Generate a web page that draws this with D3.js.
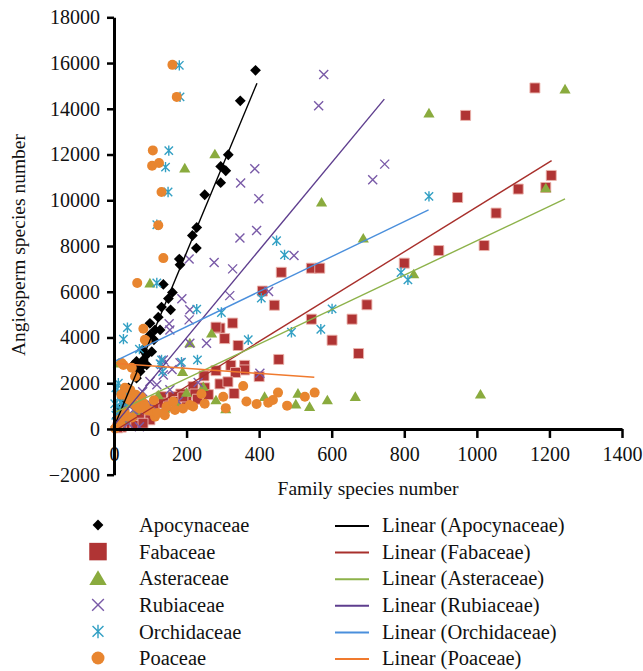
<!DOCTYPE html>
<html><head><meta charset="utf-8">
<script src="https://cdn.jsdelivr.net/npm/d3@7"></script>
<style>
html,body{margin:0;padding:0;background:#fff;}
svg{display:block;}
text{font-family:"Liberation Serif","DejaVu Serif",serif;fill:#111;}
</style></head>
<body>
<svg id="chart" width="643" height="671"></svg>
<script>
// ---------- data ----------
const seriesNames = ["Apocynaceae","Fabaceae","Asteraceae","Rubiaceae","Orchidaceae","Poaceae"];

const apocynaceae = [[390,15680],[348,14350],[315,11990],[294,11480],[308,11290],[294,10770],[250,10240],[228,8810],[216,8460],[227,7910],[180,7430],[182,7180],[136,6320],[161,5970],[150,5700],[156,5210],[131,5330],[122,4890],[99,4620],[113,4330],[127,4330],[99,4110],[110,3900],[104,3380],[90,3240],[81,3020],[90,2800],[76,2730],[72,2510],[62,2220],[62,2950],[53,2800],[79,3460],[58,2580],[40,1800],[30,1300],[20,900],[10,500],[15,200],[5,100]];

const fabaceae = [[1160,14910],[969,13710],[1205,11085],[1114,10490],[1190,10560],[947,10120],[1053,9440],[895,7800],[1020,8020],[800,7250],[544,7030],[567,7030],[697,5430],[544,4800],[656,4800],[601,3880],[674,3300],[461,6850],[409,6030],[442,5410],[327,4630],[292,4410],[281,4450],[305,3950],[342,3650],[454,3040],[322,2780],[360,2780],[360,2580],[335,2470],[281,2550],[400,2290],[248,2320],[292,1970],[314,2060],[331,1550],[218,1850],[223,1530],[184,1530],[162,1410],[131,1410],[136,1130],[90,690],[99,400],[70,500],[50,300],[30,150],[20,80],[110,900],[150,1000],[200,1200],[60,150],[80,250],[10,50],[170,1200],[190,1400],[250,1800],[260,1500],[230,1300]];

const asteraceae = [[1243,14865],[868,13815],[1190,10540],[572,9920],[687,8345],[278,12030],[195,11410],[826,6780],[1010,1520],[665,1420],[588,1270],[539,980],[507,1560],[501,1090],[415,1420],[99,6380],[269,4190],[209,3760],[12,2880],[189,2510],[246,1850],[281,1270],[308,880],[173,1130],[122,1490],[60,800],[30,400],[80,1000],[140,900],[200,1600],[40,1100],[15,600]];

const rubiaceae = [[578,15500],[564,14130],[746,11580],[713,10900],[349,10750],[388,11380],[399,10070],[347,8350],[393,8680],[496,7580],[207,7430],[276,7280],[327,7000],[426,6010],[319,5830],[187,5690],[209,5210],[207,4770],[152,4600],[154,4330],[255,3750],[209,3750],[182,2900],[131,2820],[136,3020],[160,2600],[402,2440],[232,2030],[99,2070],[118,1930],[53,830],[39,250],[70,100],[154,1710],[136,2360],[79,1630],[53,1270],[104,1050],[67,830],[177,1200],[20,500],[30,1000]];

const orchidaceae = [[180,15900],[182,14520],[151,12170],[142,11450],[149,10360],[118,8930],[448,8230],[868,10170],[791,6840],[810,6520],[601,5250],[570,4360],[470,7610],[406,5720],[489,4230],[370,3900],[296,5090],[118,6380],[228,5240],[37,4430],[26,3930],[70,3490],[230,3020],[186,2920],[131,3020],[127,2850],[134,2510],[5,1800],[10,1600],[15,1400],[20,1200],[8,1000],[25,1700],[12,2000],[30,1500],[2,1100],[18,900],[35,1200],[5,600],[10,300],[40,1600],[45,1400]];

const poaceae = [[161,15920],[173,14520],[107,12180],[105,11510],[124,11630],[131,10360],[122,8910],[136,7470],[64,6380],[81,4380],[85,3900],[90,3820],[26,2800],[21,2880],[49,2680],[58,2290],[30,1800],[356,1880],[241,1530],[301,1410],[308,910],[365,1200],[393,1090],[425,1150],[438,1270],[452,1590],[477,1020],[526,1410],[553,1590],[209,1050],[218,980],[168,830],[136,690],[113,540],[90,830],[81,1130],[62,980],[44,1270],[35,540],[17,250],[3,20],[145,980],[163,1200],[20,1500],[40,1300],[55,1100],[70,900],[85,1000],[100,800],[30,700],[50,500],[15,400],[60,1500],[45,1700],[75,1400],[110,1250],[120,700],[140,600],[190,900],[250,1100]];

// Linear trend lines: [x0, y0, x1, y1]
const trendApocynaceae = [0, 90, 394, 15120];
const trendFabaceae    = [0, -100, 1206, 11730];
const trendAsteraceae  = [0, 700, 1243, 10060];
const trendRubiaceae   = [2, 200, 745, 14420];
const trendOrchidaceae = [0, 2945, 867, 9580];
const trendPoaceae     = [0, 2870, 552, 2262];

const xTicks = [0,200,400,600,800,1000,1200,1400];
const yTicks = [-2000,0,2000,4000,6000,8000,10000,12000,14000,16000,18000];
const xTitle = "Family species number";
const yTitle = "Angiosperm species number";

// ---------- styles ----------
const pointSets = [apocynaceae,fabaceae,asteraceae,rubiaceae,orchidaceae,poaceae];
const trends = [trendApocynaceae,trendFabaceae,trendAsteraceae,trendRubiaceae,trendOrchidaceae,trendPoaceae];
const markerStyle = [
  {shape:"diamond", fill:"#000000"},
  {shape:"square",  fill:"#b03434", stroke:"#ebb3ab"},
  {shape:"triangle",fill:"#8aab3e"},
  {shape:"x",       stroke:"#7a5ba8"},
  {shape:"star",    stroke:"#33a0c4"},
  {shape:"circle",  fill:"#e8852f"}
];
const lineColors = ["#000000","#a8302c","#8db24a","#5e3e8e","#4a8fdc","#f07a2e"];

function markerPath(shape){
  switch(shape){
    case "diamond": return "M0,-5.4L5.4,0L0,5.4L-5.4,0Z";
    case "square": return "M-5,-5H5V5H-5Z";
    case "triangle": return "M0,-5.2L5.6,4.4H-5.6Z";
    case "x": return "M-4.5,-4.5L4.5,4.5M-4.5,4.5L4.5,-4.5";
    case "star": return "M-4.2,-4.2L4.2,4.2M-4.2,4.2L4.2,-4.2M0,-5.2V5.2";
    case "circle": return "M5,0A5,5 0 1,1 -5,0A5,5 0 1,1 5,0Z";
  }
}
function drawMarker(g, shape, st){
  const p = g.append("path").attr("d", markerPath(shape));
  if(shape==="x"||shape==="star"){
    p.attr("fill","none").attr("stroke",st.stroke).attr("stroke-width",1.4);
  } else {
    p.attr("fill",st.fill);
    if(st.stroke) p.attr("stroke",st.stroke).attr("stroke-width",0.9);
  }
  return p;
}

// ---------- scales ----------
const svg = d3.select("#chart");
const x = d3.scaleLinear().domain([0,1400]).range([114,622]);
const y = d3.scaleLinear().domain([-2000,18000]).range([474.7,17.3]);
const FS_TICK = "20px", FS_TITLE = "19.5px", FS_LEG = "20.5px";

// ---------- points ----------
const plot = svg.append("g");
pointSets.forEach((pts,i)=>{
  const st = markerStyle[i];
  const g = plot.append("g");
  pts.forEach(d=>{
    const m = g.append("g").attr("transform",`translate(${x(d[0])},${y(d[1])})`);
    drawMarker(m, st.shape, st);
  });
});

// ---------- trend lines ----------
const lineGen = d3.line().x(d=>x(d[0])).y(d=>y(d[1]));
trends.forEach((t,i)=>{
  plot.append("path")
    .attr("d", lineGen([[t[0],t[1]],[t[2],t[3]]]))
    .attr("fill","none").attr("stroke",lineColors[i]).attr("stroke-width",1.4);
});

// ---------- axes ----------
const fmt = d => d<0 ? "\u2212"+Math.abs(d) : String(d);
const xAxis = svg.append("g").attr("transform",`translate(0,${y(0)})`)
  .call(d3.axisBottom(x).tickValues(xTicks).tickSize(9).tickSizeOuter(0).tickPadding(9).tickFormat(fmt));
const yAxis = svg.append("g").attr("transform",`translate(${x(0)},0)`)
  .call(d3.axisLeft(y).tickValues(yTicks).tickSize(7).tickSizeOuter(0).tickPadding(7).tickFormat(fmt));
[xAxis,yAxis].forEach(a=>{
  a.select(".domain").attr("stroke","#000").attr("stroke-width",3);
  a.selectAll(".tick line").attr("stroke","#000").attr("stroke-width",2.5);
  a.selectAll(".tick text").attr("font-family",'"Liberation Serif",serif').attr("font-size",FS_TICK).attr("fill","#111");
});

// ---------- axis titles ----------
svg.append("text").attr("x",368).attr("y",495).attr("text-anchor","middle")
  .attr("font-size",FS_TITLE).text(xTitle);
svg.append("text").attr("transform","translate(25,245) rotate(-90)").attr("text-anchor","middle")
  .attr("font-size",FS_TITLE).text(yTitle);

// ---------- legend ----------
const legY0 = 525, legDY = 26.6;
const leg = svg.append("g");
seriesNames.forEach((name,i)=>{
  const yy = legY0 + i*legDY;
  const st = markerStyle[i];
  const sc = st.shape==="diamond"?1.0:(st.shape==="square"?1.75:(st.shape==="triangle"?1.55:1.3));
  const m = leg.append("g").attr("transform",`translate(98,${yy}) scale(${sc})`);
  drawMarker(m, st.shape, st).attr("stroke-width", st.shape==="x"||st.shape==="star" ? 1.1 : (st.stroke?0:null));
  leg.append("text").attr("x",139).attr("y",yy).attr("dy","0.35em").attr("font-size",FS_LEG).text(name);
  leg.append("line").attr("x1",335).attr("x2",369).attr("y1",yy+1).attr("y2",yy+1)
    .attr("stroke",lineColors[i]).attr("stroke-width",2);
  leg.append("text").attr("x",382).attr("y",yy).attr("dy","0.35em").attr("font-size",FS_LEG).text("Linear ("+name+")");
});
</script>
</body></html>
